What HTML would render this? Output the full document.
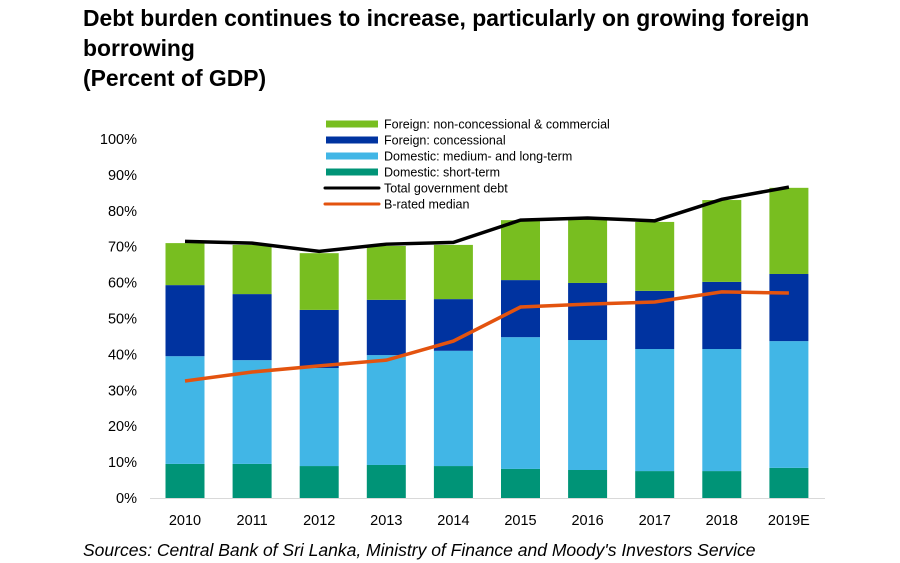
<!DOCTYPE html>
<html><head><meta charset="utf-8"><style>
body{margin:0;background:#fff;width:900px;height:563px;overflow:hidden;font-family:"Liberation Sans",Arial,sans-serif}
.t{position:absolute;left:83px;color:#000;}
</style></head><body>
<div class="t" style="top:3px;line-height:30px;font-weight:bold;font-size:22.9px;">Debt burden continues to increase, particularly on growing foreign<br>borrowing<br>(Percent of GDP)</div>
<svg id="c" width="900" height="563" style="position:absolute;left:0;top:0"></svg>
<div style="position:absolute;left:83px;top:540px;font-size:17.5px;font-style:italic;">Sources: Central Bank of Sri Lanka, Ministry of Finance and Moody's Investors Service</div>
<script>
const categories=["2010","2011","2012","2013","2014","2015","2016","2017","2018","2019E"];
const shortTerm=[9.5,9.5,8.9,9.2,8.9,8.1,7.8,7.5,7.5,8.4];
const domesticLong=[30.0,28.9,27.3,30.6,32.1,36.7,36.2,34.0,34.0,35.3];
const concessional=[19.8,18.4,16.2,15.4,14.4,15.9,15.9,16.2,18.7,18.7];
const nonConcessional=[11.7,13.7,15.8,15.0,15.1,16.7,18.1,19.2,22.8,24.0];
const totalDebt=[71.5,71.0,68.7,70.7,71.2,77.4,78.0,77.2,83.2,86.6];
const bRated=[32.6,35.1,36.8,38.4,43.7,53.2,54.0,54.6,57.4,57.1];
const yTicks=[0,10,20,30,40,50,60,70,80,90,100];
const svg=document.getElementById('c');const NS='http://www.w3.org/2000/svg';
function mk(t,a){const e=document.createElementNS(NS,t);for(const k in a)e.setAttribute(k,a[k]);svg.appendChild(e);return e;}
const y=v=>498-v*3.59; const x=i=>185+i*67.1; const bw=39;
mk('line',{x1:150,x2:825,y1:498.5,y2:498.5,stroke:'#d9d9d9','stroke-width':1});
yTicks.forEach(v=>{const t=mk('text',{x:137,y:y(v)+5,'text-anchor':'end','font-size':14.5});t.textContent=v+'%';

});
const series=[[shortTerm,'#009477','bar-short-term'],[domesticLong,'#41b6e6','bar-domestic-long'],[concessional,'#0033a0','bar-concessional'],[nonConcessional,'#78be20','bar-non-concessional']];
categories.forEach((c,i)=>{let base=0;series.forEach(([arr,col,name])=>{const r=mk('rect',{x:x(i)-bw/2,y:y(base+arr[i]),width:bw,height:arr[i]*3.59,fill:col});

base+=arr[i];});
const t=mk('text',{x:x(i),y:525,'text-anchor':'middle','font-size':14.5});t.textContent=c;

});
function line(arr,col,name){const p=mk('polyline',{points:arr.map((v,i)=>x(i)+','+y(v)).join(' '),fill:'none',stroke:col,'stroke-width':3.5});

}
line(totalDebt,'#000','line-total-debt');line(bRated,'#e3530f','line-b-rated-median');
const leg=[['Foreign: non-concessional & commercial','#78be20',0],['Foreign: concessional','#0033a0',0],['Domestic: medium- and long-term','#41b6e6',0],['Domestic: short-term','#009477',0],['Total government debt','#000',1],['B-rated median','#e3530f',1]];
leg.forEach(([l,col,isLine],k)=>{const yy=124+k*16;
if(isLine){const e=mk('line',{x1:325,x2:379,y1:yy,y2:yy,stroke:col,'stroke-width':3,'stroke-linecap':'round'});}
else{const e=mk('rect',{x:326,y:yy-3.5,width:52,height:7,fill:col});}
const t=mk('text',{x:384,y:yy+4.5,'font-size':12.5});t.textContent=l;

});
</script>
</body></html>
